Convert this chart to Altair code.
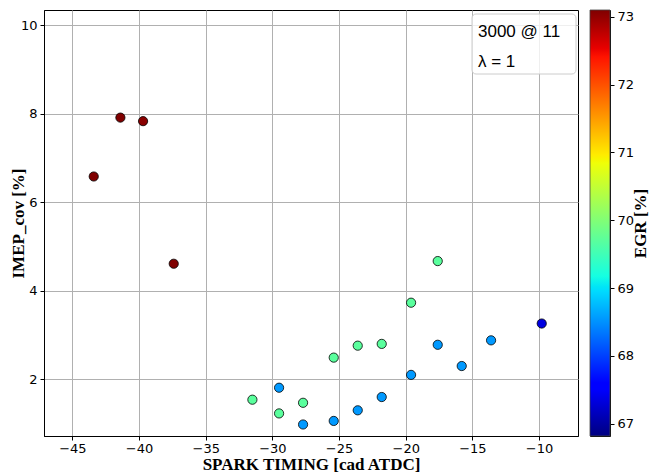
import altair as alt
import pandas as pd
import numpy as np

# ---- data ----
spark_timing = [-41.4, -39.7, -43.4, -37.4,
                -17.6, -19.6, -23.6, -21.8, -25.4, -31.5, -27.7, -29.5,
                -9.8,
                -17.6, -13.6, -19.6, -15.8, -29.5, -21.8, -23.6, -25.4, -27.7]
imep_cov = [7.91, 7.83, 6.58, 4.61,
            4.67, 3.73, 2.76, 2.80, 2.49, 1.54, 1.47, 1.23,
            3.26,
            2.78, 2.88, 2.10, 2.30, 1.81, 1.60, 1.30, 1.06, 0.98]
egr = [73.1, 73.05, 73.1, 73.1,
       69.7, 69.7, 69.7, 69.7, 69.7, 69.7, 69.7, 69.7,
       67.35,
       68.55, 68.55, 68.55, 68.55, 68.55, 68.55, 68.55, 68.55, 68.55]

egr_min, egr_max = 66.82, 73.1
cbar_ticks = [67, 68, 69, 70, 71, 72, 73]
x_ticks = [-45, -40, -35, -30, -25, -20, -15, -10]
y_ticks = [2, 4, 6, 8, 10]
legend_lines = ["3000 @ 11", "λ = 1"]

df = pd.DataFrame({"st": spark_timing, "imep": imep_cov, "egr": egr})

# ---- jet colormap (style) ----
seg_r = [(0, 0), (0.35, 0), (0.66, 1), (0.89, 1), (1, 0.5)]
seg_g = [(0, 0), (0.125, 0), (0.375, 1), (0.64, 1), (0.91, 0), (1, 0)]
seg_b = [(0, 0.5), (0.11, 1), (0.34, 1), (0.65, 0), (1, 0)]
ts = [0, 0.11, 0.125, 0.34, 0.35, 0.375, 0.64, 0.65, 0.66, 0.89, 0.91, 1.0]


def chan(seg, t):
    xs = [a for a, _ in seg]
    ys = [b for _, b in seg]
    return float(np.interp(t, xs, ys))


def jet_hex(t):
    return "#%02x%02x%02x" % tuple(int(round(255 * chan(s, t))) for s in (seg_r, seg_g, seg_b))


stop_colors = [jet_hex(t) for t in ts]
stop_values = [egr_min + t * (egr_max - egr_min) for t in ts]

W, H = 534, 426
FONT = "DejaVu Sans"
TFONT = "Liberation Serif"

x_scale = alt.Scale(domain=[-47.13, -7.08], nice=False, zero=False)
y_scale = alt.Scale(domain=[0.72, 10.34], nice=False, zero=False)

points = alt.Chart(df).mark_circle(size=85, opacity=1, stroke="black", strokeWidth=0.8).encode(
    x=alt.X("st:Q", scale=x_scale,
            axis=alt.Axis(values=x_ticks, title="SPARK TIMING [cad ATDC]", format="d",
                          labelPadding=2, titleBaseline="alphabetic", titleY=33)),
    y=alt.Y("imep:Q", scale=y_scale,
            axis=alt.Axis(values=y_ticks, title="IMEP_cov [%]", format="d",
                          titleBaseline="middle", titleX=-26)),
    color=alt.Color("egr:Q", scale=alt.Scale(domain=stop_values, range=stop_colors,
                                             interpolate="rgb"), legend=None),
)

box = alt.Chart(pd.DataFrame({"a": [0]})).mark_rect(
    fill="white", fillOpacity=0.8, stroke="#cccccc", strokeWidth=1, cornerRadius=4
).encode(x=alt.value(428), x2=alt.value(532), y=alt.value(4), y2=alt.value(64))

txt_df = pd.DataFrame({"t": legend_lines, "yy": [26.5, 56.5]})
texts = alt.Chart(txt_df).mark_text(
    align="left", baseline="alphabetic", font="Liberation Sans", fontSize=17, color="black"
).encode(x=alt.value(434), y=alt.Y("yy:Q", scale=None), text="t:N")

main = alt.layer(points, box, texts).properties(width=W, height=H)

grad = {
    "gradient": "linear", "x1": 0, "y1": 1, "x2": 0, "y2": 0,
    "stops": [{"offset": t, "color": c} for t, c in zip(ts, stop_colors)],
}
cb_df = pd.DataFrame({"lo": [egr_min], "hi": [egr_max]})
cbar = alt.Chart(cb_df).mark_rect(fill=grad, stroke="#444444", strokeWidth=0.8).encode(
    x=alt.value(0), x2=alt.value(20),
    y=alt.Y("lo:Q", scale=alt.Scale(domain=[egr_min, egr_max], nice=False, zero=False),
            axis=alt.Axis(orient="right", values=cbar_ticks, title="EGR [%]", grid=False,
                          titleAngle=270, titlePadding=16, format="d", domain=False)),
    y2="hi:Q",
).properties(width=20, height=H)

chart = alt.hconcat(main, cbar, spacing=10).properties(
    padding={"left": 8, "top": 9, "right": 0, "bottom": 0}
).configure_view(stroke="black", strokeWidth=1).configure_axis(
    labelFont=FONT, labelFontSize=13, labelColor="black",
    titleFont=TFONT, titleFontSize=17, titleFontWeight="bold", titleColor="black",
    tickColor="black", tickSize=4, domainColor="black",
    gridColor="#b0b0b0", gridWidth=1, labelPadding=3,
)

chart.save("out.html", embed_options={"renderer": "svg", "actions": False})
